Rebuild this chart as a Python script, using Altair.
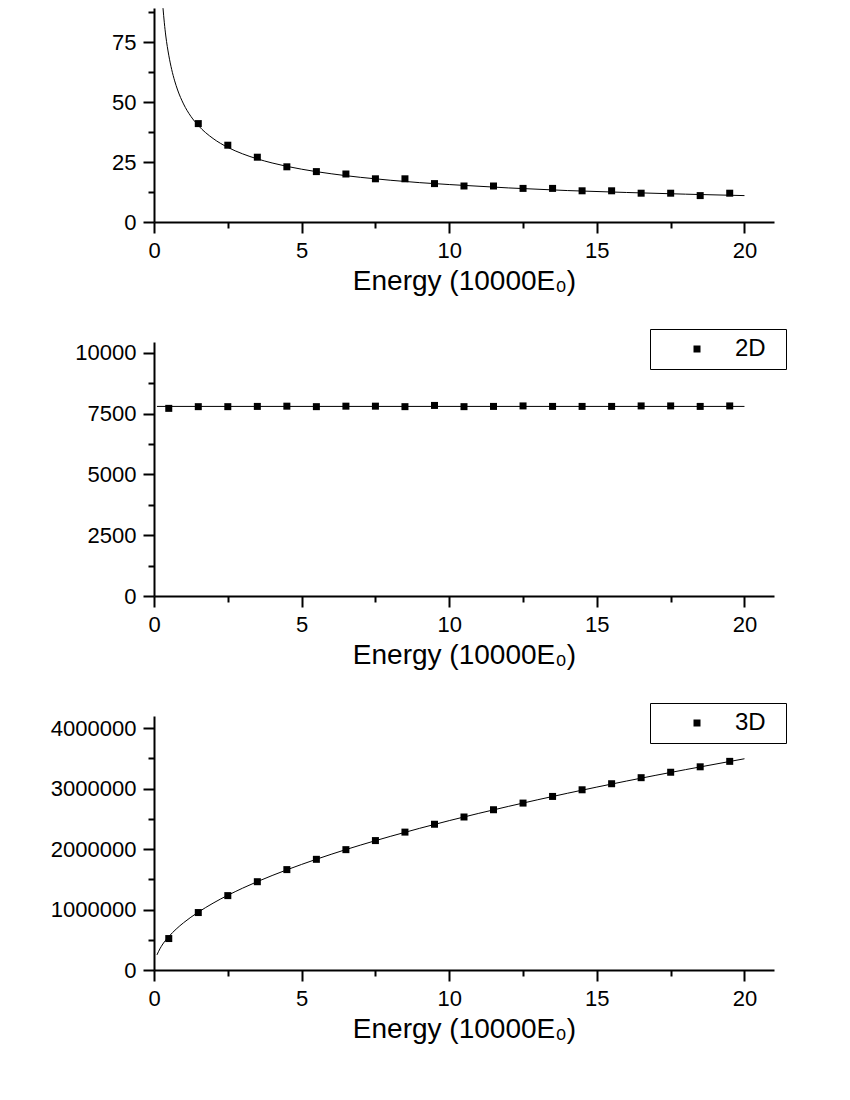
import altair as alt
import pandas as pd

FONT = "Liberation Sans"

# ---------- Panel 1 (1D) ----------
e1_pts = [1.5, 2.5, 3.5, 4.5, 5.5, 6.5, 7.5, 8.5, 9.5, 10.5, 11.5, 12.5, 13.5, 14.5, 15.5, 16.5, 17.5, 18.5, 19.5]
v1_pts = [41, 32, 27, 23, 21, 20, 18, 18, 16, 15, 15, 14, 14, 13, 13, 12, 12, 11, 12]
e1_fit = [0.305, 0.35, 0.4, 0.5, 0.6, 0.7, 0.8, 1.0, 1.25, 1.5, 2, 2.5, 3, 3.5, 4, 5, 6, 7, 8, 9, 10, 12, 14, 16, 18, 20]
v1_fit = [89.1, 83, 77.5, 69.5, 63.5, 58.8, 55, 49.2, 44, 40.2, 34.8, 31.1, 28.4, 26.3, 24.6, 22, 20.1, 18.6, 17.4, 16.4, 15.6, 14.2, 13.1, 12.3, 11.6, 11]

# ---------- Panel 2 (2D) ----------
e2_pts = [0.5, 1.5, 2.5, 3.5, 4.5, 5.5, 6.5, 7.5, 8.5, 9.5, 10.5, 11.5, 12.5, 13.5, 14.5, 15.5, 16.5, 17.5, 18.5, 19.5]
v2_pts = [7720, 7790, 7790, 7800, 7810, 7790, 7810, 7810, 7790, 7840, 7790, 7800, 7820, 7800, 7800, 7800, 7820, 7820, 7800, 7820]
e2_fit = [0.1, 20]
v2_fit = [7800, 7800]

# ---------- Panel 3 (3D) ----------
e3_pts = [0.5, 1.5, 2.5, 3.5, 4.5, 5.5, 6.5, 7.5, 8.5, 9.5, 10.5, 11.5, 12.5, 13.5, 14.5, 15.5, 16.5, 17.5, 18.5, 19.5]
v3_pts = [520000, 950000, 1230000, 1460000, 1660000, 1830000, 1990000, 2140000, 2280000, 2410000,
          2530000, 2650000, 2760000, 2870000, 2980000, 3080000, 3180000, 3270000, 3360000, 3450000]
e3_fit = [0.1, 0.2, 0.3, 0.5, 0.75, 1, 1.5, 2, 3, 4, 5, 6, 8, 10, 12, 14, 16, 18, 20]
v3_fit = [250000, 350000, 430000, 552000, 676000, 781000, 956000, 1105000, 1353000, 1562000,
          1746000, 1913000, 2209000, 2470000, 2705000, 2922000, 3124000, 3313000, 3493000]

x_major = [0, 5, 10, 15, 20]
x_minor = [2.5, 7.5, 12.5, 17.5]
XTITLE = "Energy (10000E\u2080)"

AX = dict(domainColor="black", domainWidth=2, tickColor="black", tickWidth=2,
          labelColor="black", labelFont=FONT, labelFontSize=22, grid=False,
          labelFlush=False, labelOverlap=False, format="d")


def panel(e_fit, v_fit, e_pts, v_pts, ydom, ymajor, yminor, height, label=None):
    fit = pd.DataFrame({"E": e_fit, "V": v_fit})
    pts = pd.DataFrame({"E": e_pts, "V": v_pts, "s": [label or ""] * len(e_pts)})
    xs = alt.Scale(domain=[0, 21], nice=False, zero=False)
    ys = alt.Scale(domain=ydom, nice=False, zero=False)

    line = alt.Chart(fit).mark_line(color="black", strokeWidth=1, clip=True, interpolate="monotone").encode(
        x=alt.X("E:Q", scale=xs, axis=alt.Axis(orient="bottom", values=x_major, tickSize=11, labelPadding=7,
                                               title=XTITLE, titleFont=FONT, titleFontSize=28,
                                               titleFontWeight="normal", titleColor="black", titlePadding=6, **AX)),
        y=alt.Y("V:Q", scale=ys, axis=alt.Axis(orient="left", values=ymajor, tickSize=11, labelPadding=7,
                                               title=None, **AX)),
    )
    minor = alt.Chart(fit).mark_line(strokeOpacity=0).encode(
        x=alt.X("E:Q", scale=xs, axis=alt.Axis(orient="bottom", values=x_minor, tickSize=6, labels=False,
                                               domain=False, title=None, tickColor="black", tickWidth=2, grid=False)),
        y=alt.Y("V:Q", scale=ys, axis=alt.Axis(orient="left", values=yminor, tickSize=6, labels=False,
                                               domain=False, title=None, tickColor="black", tickWidth=2, grid=False)),
    )
    enc = dict(x=alt.X("E:Q", scale=xs, axis=None), y=alt.Y("V:Q", scale=ys, axis=None))
    if label:
        enc["color"] = alt.Color("s:N", scale=alt.Scale(domain=[label], range=["black"]),
                                 legend=alt.Legend(title="\u00a0", titleOrient="right", titlePadding=12,
                                                   titleFontSize=8,
                                                   orient="none", legendX=496, legendY=-13,
                                                   strokeColor="black", fillColor="white", padding=8,
                                                   symbolType="square", symbolSize=49, symbolFillColor="black",
                                                   symbolStrokeWidth=0, symbolOffset=27, labelOffset=26,
                                                   labelFont=FONT, labelFontSize=24, labelColor="black"))
    points = alt.Chart(pts).mark_point(shape="square", filled=True, size=49, color="black", opacity=1).encode(**enc)
    return alt.layer(line, minor, points).resolve_axis(x="independent", y="independent").properties(
        width=620, height=height)


p1 = panel(e1_fit, v1_fit, e1_pts, v1_pts, [0, 89.17], [0, 25, 50, 75], [12.5, 37.5, 62.5, 87.5], 214)
p2 = panel(e2_fit, v2_fit, e2_pts, v2_pts, [0, 10450], [0, 2500, 5000, 7500, 10000],
           [1250, 3750, 6250, 8750], 254, "2D")
p3 = panel(e3_fit, v3_fit, e3_pts, v3_pts, [0, 4200000], [0, 1000000, 2000000, 3000000, 4000000],
           [500000, 1500000, 2500000, 3500000], 254, "3D")

chart = alt.vconcat(p1, p2, p3, spacing=120, bounds="flush").resolve_scale(color="independent").resolve_legend(
    color="independent").properties(padding={"left": 42, "top": 0, "right": 5, "bottom": 5},
                                    background="white").configure_view(strokeWidth=0, stroke="transparent")

chart.save("out.html", embed_options={"renderer": "svg", "actions": False})
